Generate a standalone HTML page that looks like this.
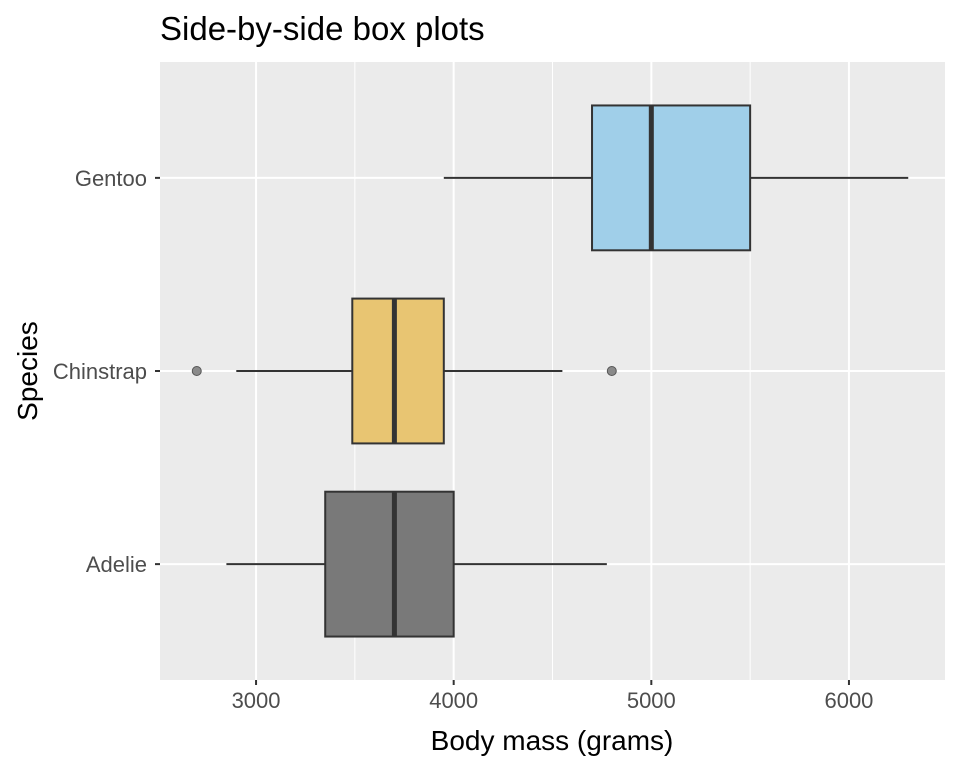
<!DOCTYPE html>
<html><head><meta charset="utf-8"><style>
body{margin:0;background:#fff;font-family:"Liberation Sans",Arial,sans-serif}
</style></head><body>
<svg width="960" height="768" xmlns="http://www.w3.org/2000/svg">
<text x="160" y="40" font-size="33" fill="#000">Side-by-side box plots</text>
<rect x="160" y="62" width="785" height="618" fill="#ebebeb"/>
<g id="grid"></g>
<g id="boxes"></g>
<g id="axes"></g>
<text x="552" y="750" font-size="28" text-anchor="middle" fill="#000">Body mass (grams)</text>
<text transform="translate(37,371) rotate(-90)" font-size="28" text-anchor="middle" fill="#000">Species</text>
</svg>
<script>
const species=["Adelie","Chinstrap","Gentoo"];
const whiskerLow=[2850,2900,3950];
const q1=[3350,3487,4700];
const median=[3700,3700,5000];
const q3=[4000,3950,5500];
const whiskerHigh=[4775,4550,6300];
const outliers=[[],[2700,4800],[]];
const fills=["#797979","#e8c572","#a0cfe9"];
const xTicks=[3000,4000,5000,6000];
const xMinor=[2500,3500,4500,5500,6500];
const NS="http://www.w3.org/2000/svg";
const X0=160,X1=945,Y0=62,Y1=680,dMin=2514,dMax=6486;
const x=v=>X0+(v-dMin)/(dMax-dMin)*(X1-X0);
const unit=(Y1-Y0)/(species.length+0.2);
const y=i=>Y1-unit*(i+0.6);
function mk(t,a,p){const e=document.createElementNS(NS,t);for(const k in a)e.setAttribute(k,a[k]);p.appendChild(e);return e;}
const g=document.getElementById('grid'),b=document.getElementById('boxes'),ax=document.getElementById('axes');
xMinor.forEach(v=>{const px=x(v);if(px<X0||px>X1)return;
const l=mk('line',{x1:px,x2:px,y1:Y0,y2:Y1,stroke:'#fff','stroke-width':1},g);

});
xTicks.forEach(v=>{const l=mk('line',{x1:x(v),x2:x(v),y1:Y0,y2:Y1,stroke:'#fff','stroke-width':2},g);


const tk=mk('line',{x1:x(v),x2:x(v),y1:Y1,y2:Y1+5,stroke:'#333','stroke-width':2},ax);


const t=mk('text',{x:x(v),y:Y1+28,'font-size':22,'text-anchor':'middle',fill:'#4d4d4d'},ax);t.textContent=v;

});
species.forEach((s,i)=>{const cy=y(i),h=unit*0.375;
const l=mk('line',{x1:X0,x2:X1,y1:cy,y2:cy,stroke:'#fff','stroke-width':2},g);


const tk=mk('line',{x1:X0-5,x2:X0,y1:cy,y2:cy,stroke:'#333','stroke-width':2},ax);


const t=mk('text',{x:X0-13,y:cy+8,'font-size':22,'text-anchor':'end',fill:'#4d4d4d'},ax);t.textContent=s;


const w1=mk('line',{x1:x(whiskerLow[i]),x2:x(q1[i]),y1:cy,y2:cy,stroke:'#333','stroke-width':2},b);


const w2=mk('line',{x1:x(q3[i]),x2:x(whiskerHigh[i]),y1:cy,y2:cy,stroke:'#333','stroke-width':2},b);


const r=mk('rect',{x:x(q1[i]),y:cy-h,width:x(q3[i])-x(q1[i]),height:2*h,fill:fills[i],stroke:'#333','stroke-width':2},b);


const m=mk('line',{x1:x(median[i]),x2:x(median[i]),y1:cy-h,y2:cy+h,stroke:'#333','stroke-width':5},b);


outliers[i].forEach(o=>{const c=mk('circle',{cx:x(o),cy:cy,r:4.5,fill:'#8a8a8a',stroke:'#555','stroke-width':1},b);

});
});
</script>
</body></html>
